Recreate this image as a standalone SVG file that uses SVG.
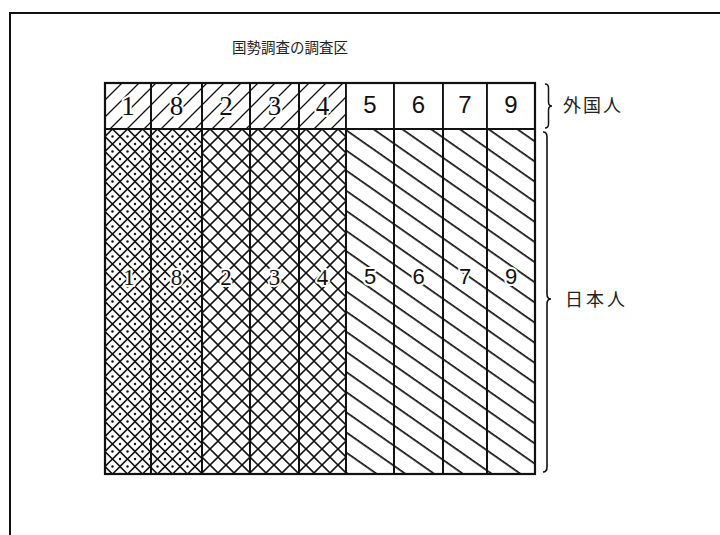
<svg xmlns="http://www.w3.org/2000/svg" width="720" height="535" viewBox="0 0 720 535">
<style>
.ln{stroke:#111;fill:none}
.cell{stroke:#111;stroke-width:1.8}
.serif{font-family:"Liberation Serif","DejaVu Serif",serif;fill:#111;text-anchor:middle}
.sans{font-family:"Liberation Sans","DejaVu Sans",sans-serif;fill:#111;text-anchor:middle}
.halo{stroke:#fff;stroke-width:4;paint-order:stroke;stroke-linejoin:round}
.jp{font-family:"Noto Sans CJK JP","Noto Sans CJK SC",sans-serif;fill:#222}
</style>
<defs>
<pattern id="fwd" patternUnits="userSpaceOnUse" width="17" height="17" patternTransform="translate(105,83)">
<path d="M-2,19 L19,-2 M-2,2 L2,-2 M15,19 L19,15" stroke="#111" stroke-width="1.3"/>
</pattern>
<pattern id="xdot" patternUnits="userSpaceOnUse" width="15" height="15" patternTransform="translate(105,129)">
<path d="M0,7.5 L7.5,0 L15,7.5 L7.5,15 Z" stroke="#111" stroke-width="1.6" fill="none"/>
<circle cx="7.5" cy="7.5" r="1.2" fill="#111"/>
<circle cx="0" cy="0" r="1.2" fill="#111"/><circle cx="15" cy="0" r="1.2" fill="#111"/>
<circle cx="0" cy="15" r="1.2" fill="#111"/><circle cx="15" cy="15" r="1.2" fill="#111"/>
</pattern>
<pattern id="xh" patternUnits="userSpaceOnUse" width="16" height="16" patternTransform="translate(202,129)">
<path d="M0,8 L8,0 L16,8 L8,16 Z" stroke="#111" stroke-width="1.6" fill="none"/>
</pattern>
<pattern id="back" patternUnits="userSpaceOnUse" width="40" height="16.5" patternTransform="translate(346,129) rotate(35)">
<path d="M-2,0.8 L42,0.8" stroke="#111" stroke-width="1.6"/>
</pattern>
</defs>
<rect width="720" height="535" fill="#fff"/>
<path class="ln" d="M10,535 L10,13 L720,13" stroke-width="2"/>
<text class="jp" x="232" y="53" font-size="14.5">国勢調査の調査区</text>
<g id="foreign-row">
<rect class="cell" x="105" y="83" width="46" height="46" fill="url(#fwd)"/>
<rect class="cell" x="151" y="83" width="51" height="46" fill="url(#fwd)"/>
<rect class="cell" x="202" y="83" width="48" height="46" fill="url(#fwd)"/>
<rect class="cell" x="250" y="83" width="49" height="46" fill="url(#fwd)"/>
<rect class="cell" x="299" y="83" width="47" height="46" fill="url(#fwd)"/>
<rect class="cell" x="346" y="83" width="48" height="46" fill="#fff"/>
<rect class="cell" x="394" y="83" width="49" height="46" fill="#fff"/>
<rect class="cell" x="443" y="83" width="44" height="46" fill="#fff"/>
<rect class="cell" x="487" y="83" width="48" height="46" fill="#fff"/>
<g font-size="27">
<text class="serif halo" x="128" y="115">1</text>
<text class="serif halo" x="176.5" y="115">8</text>
<text class="serif halo" x="226" y="115">2</text>
<text class="serif halo" x="274.5" y="115">3</text>
<text class="serif halo" x="322.5" y="115">4</text>
</g>
<g font-size="24">
<text class="sans" x="370" y="113">5</text>
<text class="sans" x="418.5" y="113">6</text>
<text class="sans" x="465" y="113">7</text>
<text class="sans" x="511" y="113">9</text>
</g>
</g>
<g id="japanese-row">
<rect class="cell" x="105" y="129" width="46" height="345" fill="url(#xdot)"/>
<rect class="cell" x="151" y="129" width="51" height="345" fill="url(#xdot)"/>
<rect class="cell" x="202" y="129" width="48" height="345" fill="url(#xh)"/>
<rect class="cell" x="250" y="129" width="49" height="345" fill="url(#xh)"/>
<rect class="cell" x="299" y="129" width="47" height="345" fill="url(#xh)"/>
<rect class="cell" x="346" y="129" width="48" height="345" fill="url(#back)"/>
<rect class="cell" x="394" y="129" width="49" height="345" fill="url(#back)"/>
<rect class="cell" x="443" y="129" width="44" height="345" fill="url(#back)"/>
<rect class="cell" x="487" y="129" width="48" height="345" fill="url(#back)"/>
<g font-size="23">
<text class="serif halo" x="129" y="285">1</text>
<text class="serif halo" x="176.5" y="285">8</text>
<text class="serif halo" x="226" y="285">2</text>
<text class="serif halo" x="274.5" y="285">3</text>
<text class="serif halo" x="322.5" y="285">4</text>
</g>
<g font-size="22">
<text class="sans halo" x="370" y="284">5</text>
<text class="sans halo" x="418.5" y="284">6</text>
<text class="sans halo" x="465" y="284">7</text>
<text class="sans halo" x="511" y="284">9</text>
</g>
</g>
<rect x="105" y="83" width="430" height="391" fill="none" stroke="#111" stroke-width="2.2"/>
<g id="connectors">
<path class="ln" stroke-width="1.5" d="M545,84 Q548.5,84 548.5,88 L548.5,102 Q548.5,106 552,106 Q548.5,106 548.5,110 L548.5,124 Q548.5,128 545,128"/>
<path class="ln" stroke-width="1.6" d="M543,132 Q547,132 547,137 L547,294 Q547,299 551,299 Q547,299 547,304 L547,467 Q547,472 543,472"/>
</g>
<g id="label-foreign"><text class="jp" x="563" y="112" font-size="18" letter-spacing="2">外国人</text></g>
<g id="label-japanese"><text class="jp" x="565" y="306" font-size="18" letter-spacing="3">日本人</text></g>
</svg>
